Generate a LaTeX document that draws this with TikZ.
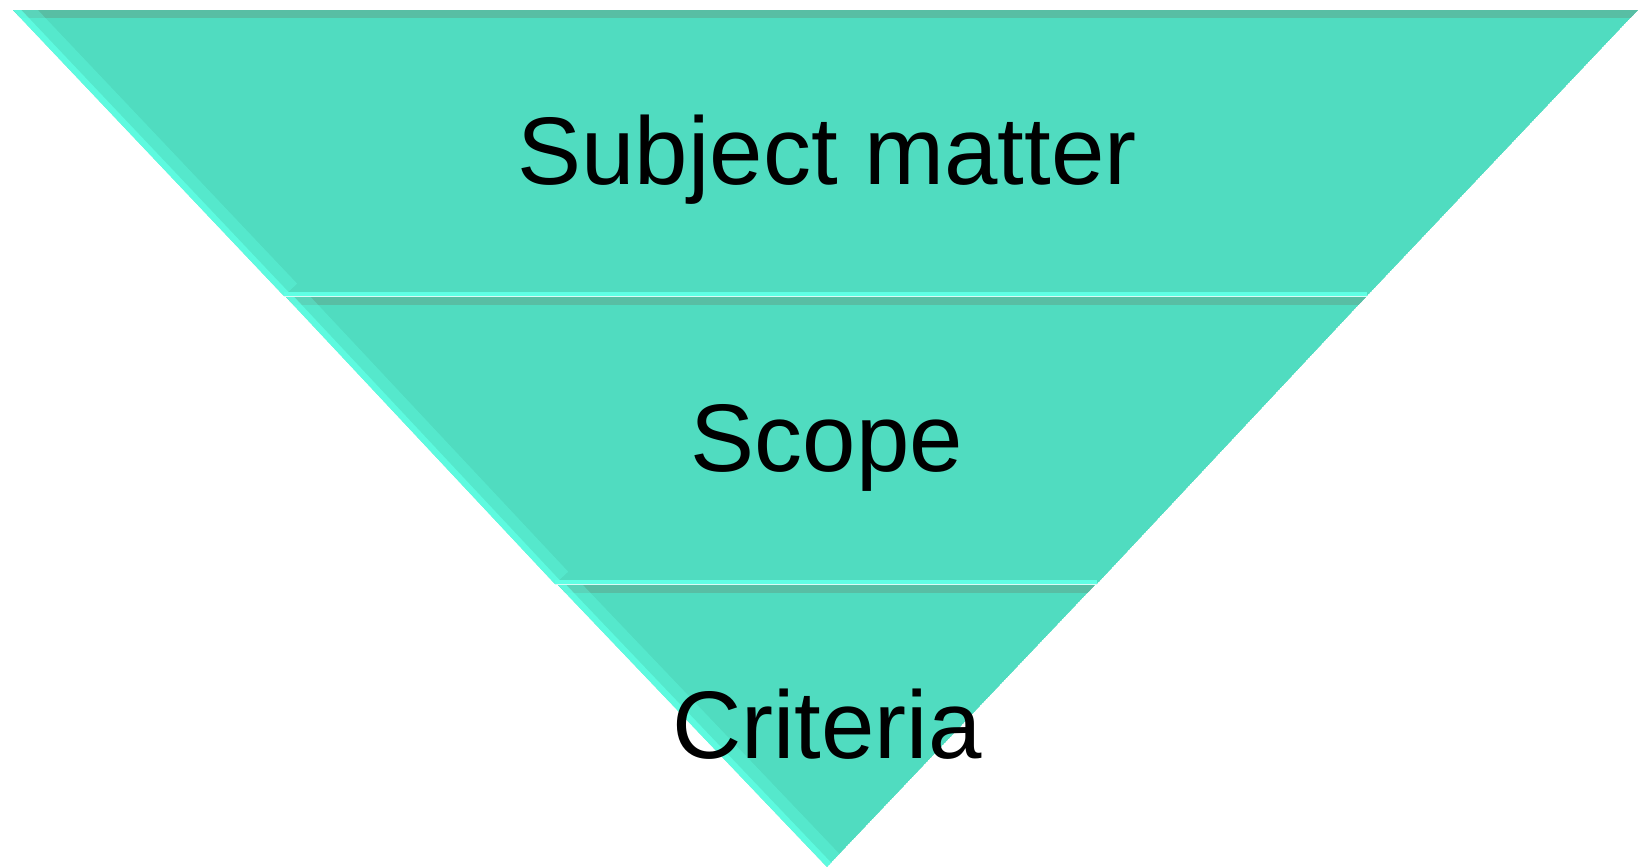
\documentclass[tikz,border=0pt]{standalone}
\usepackage{fontspec}
\setmainfont{Liberation Sans}
\usepackage{tikz}
\usetikzlibrary{positioning}
\definecolor{bandfill}{RGB}{80,220,192}
\definecolor{bandlight}{RGB}{96,255,228}
\definecolor{banddark}{RGB}{88,190,164}
\tikzset{
	band/.style={fill=bandfill, draw=none},
	bandlabel/.style={anchor=base, inner sep=0pt, font=\fontsize{48}{58}\selectfont},
}

\begin{document}
\begin{tikzpicture}[x=0.5pt,y=-0.5pt]
					\useasboundingbox (0,0) rectangle (1640,867);
					%top band
					\begin{scope}
						\clip (13,10) -- (1638,10) -- (1367,296) -- (284,296) -- cycle;
						\fill[band] (13,10) -- (1638,10) -- (1367,296) -- (284,296) -- cycle;
						\draw[banddark, line width=8pt] (13,10) -- (1638,10);
						\draw[bandlight, line width=18pt, opacity=.35] (13,10) -- (284,296);
						\draw[bandlight, line width=6pt, opacity=.8] (13,10) -- (284,296);
						\draw[bandlight, line width=4pt] (284,296) -- (1367,296);
					\end{scope}
					%middle band
					\begin{scope}
						\clip (286,297) -- (1366,297) -- (1097,584) -- (555,584) -- cycle;
						\fill[band] (286,297) -- (1366,297) -- (1097,584) -- (555,584) -- cycle;
						\draw[banddark, line width=8pt] (286,297) -- (1366,297);
						\draw[bandlight, line width=18pt, opacity=.35] (286,297) -- (555,584);
						\draw[bandlight, line width=6pt, opacity=.8] (286,297) -- (555,584);
						\draw[bandlight, line width=4pt] (555,584) -- (1097,584);
					\end{scope}
					%bottom band
					\begin{scope}
						\clip (558,585) -- (1095,585) -- (827,867) -- cycle;
						\fill[band] (558,585) -- (1095,585) -- (827,867) -- cycle;
						\draw[banddark, line width=8pt] (558,585) -- (1095,585);
						\draw[bandlight, line width=18pt, opacity=.35] (558,585) -- (827,867);
						\draw[bandlight, line width=6pt, opacity=.8] (558,585) -- (827,867);
					\end{scope}
					%labels
					\node[bandlabel] (subject) at (827,184) {Subject matter};
					\node[bandlabel] (scope) at (827,471) {Scope};
					\node[bandlabel] (criteria) at (827,758) {Criteria};
				\end{tikzpicture}
\end{document}
